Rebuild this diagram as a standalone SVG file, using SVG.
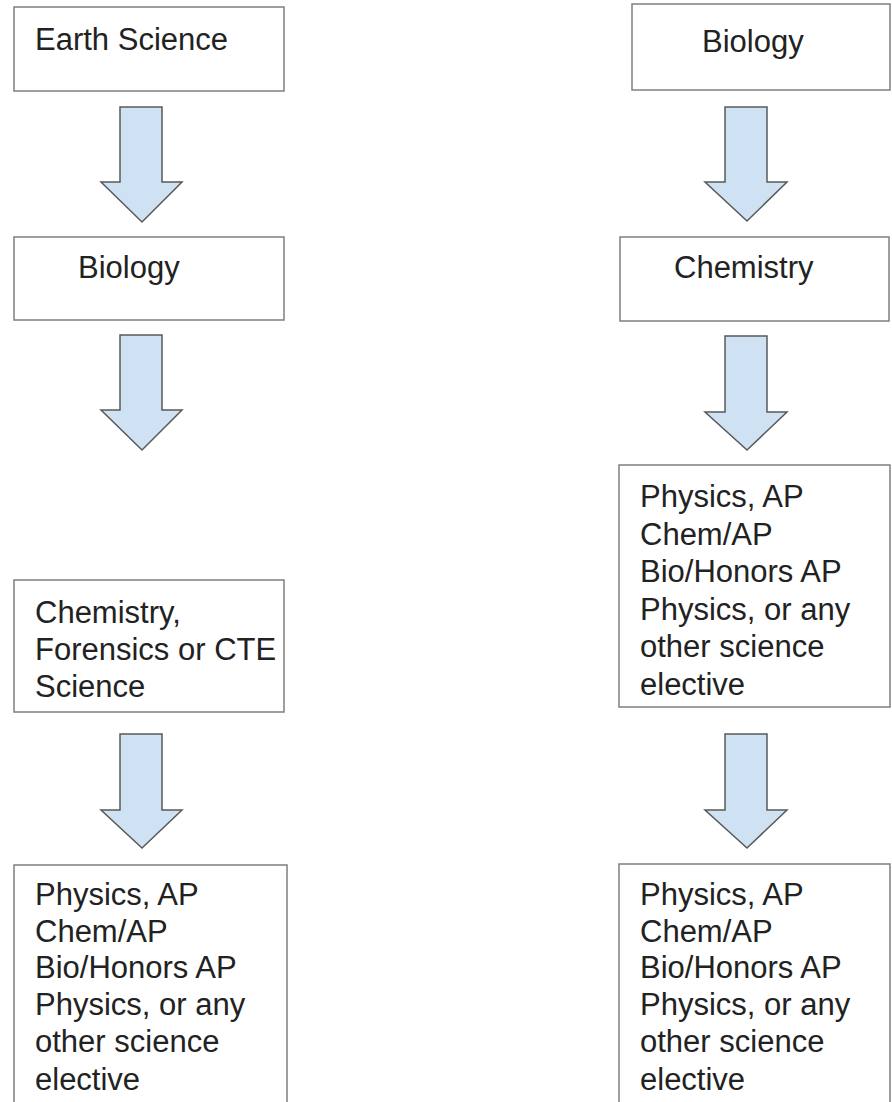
<svg xmlns="http://www.w3.org/2000/svg" width="892" height="1102" viewBox="0 0 892 1102">
<style>
.box{fill:#ffffff;stroke:#7f7f7f;stroke-width:1.5}
.arrow{fill:#cfe2f3;stroke:#595959;stroke-width:1.5;stroke-linejoin:miter}
.t{font-family:"Liberation Sans",Arial,sans-serif;font-size:31px;fill:#222222}
</style>
<rect width="892" height="1102" fill="#ffffff"/>
<g id="connectors">
<path class="arrow" d="M120,107 H162 V182 H182 L142,222 L101,182 H120 Z"/>
<path class="arrow" d="M120,335 H162 V410 H182 L142,450 L101,410 H120 Z"/>
<path class="arrow" d="M120,734 H162 V810 H182 L142,848 L101,810 H120 Z"/>
<path class="arrow" d="M725,107 H767 V182 H787 L747,221 L705,182 H725 Z"/>
<path class="arrow" d="M725,336 H767 V412 H787 L747,450 L705,412 H725 Z"/>
<path class="arrow" d="M725,734 H767 V810 H787 L747,848 L705,810 H725 Z"/>
</g>
<g id="earth-science">
<rect class="box" x="14" y="7" width="270" height="84"/>
<text class="t" x="35" y="50">Earth Science</text>
</g>
<g id="biology-left">
<rect class="box" x="14" y="237" width="270" height="83"/>
<text class="t" x="78" y="278">Biology</text>
</g>
<g id="chem-forensics">
<rect class="box" x="14" y="580" width="270" height="132"/>
<text class="t" x="35" y="623">Chemistry,</text>
<text class="t" x="35" y="660">Forensics or CTE</text>
<text class="t" x="35" y="697">Science</text>
</g>
<g id="electives-left">
<rect class="box" x="14" y="865" width="273" height="260"/>
<text class="t" x="35" y="905">Physics, AP</text>
<text class="t" x="35" y="942">Chem/AP</text>
<text class="t" x="35" y="978">Bio/Honors AP</text>
<text class="t" x="35" y="1015">Physics, or any</text>
<text class="t" x="35" y="1052">other science</text>
<text class="t" x="35" y="1090">elective</text>
</g>
<g id="biology-right">
<rect class="box" x="632" y="4" width="258" height="86"/>
<text class="t" x="702" y="52">Biology</text>
</g>
<g id="chemistry-right">
<rect class="box" x="620" y="237" width="269" height="84"/>
<text class="t" x="674" y="278">Chemistry</text>
</g>
<g id="electives-right-1">
<rect class="box" x="619" y="465" width="271" height="242"/>
<text class="t" x="640" y="507">Physics, AP</text>
<text class="t" x="640" y="545">Chem/AP</text>
<text class="t" x="640" y="582">Bio/Honors AP</text>
<text class="t" x="640" y="620">Physics, or any</text>
<text class="t" x="640" y="657">other science</text>
<text class="t" x="640" y="695">elective</text>
</g>
<g id="electives-right-2">
<rect class="box" x="619" y="864" width="271" height="260"/>
<text class="t" x="640" y="905">Physics, AP</text>
<text class="t" x="640" y="942">Chem/AP</text>
<text class="t" x="640" y="978">Bio/Honors AP</text>
<text class="t" x="640" y="1015">Physics, or any</text>
<text class="t" x="640" y="1052">other science</text>
<text class="t" x="640" y="1090">elective</text>
</g>
</svg>
